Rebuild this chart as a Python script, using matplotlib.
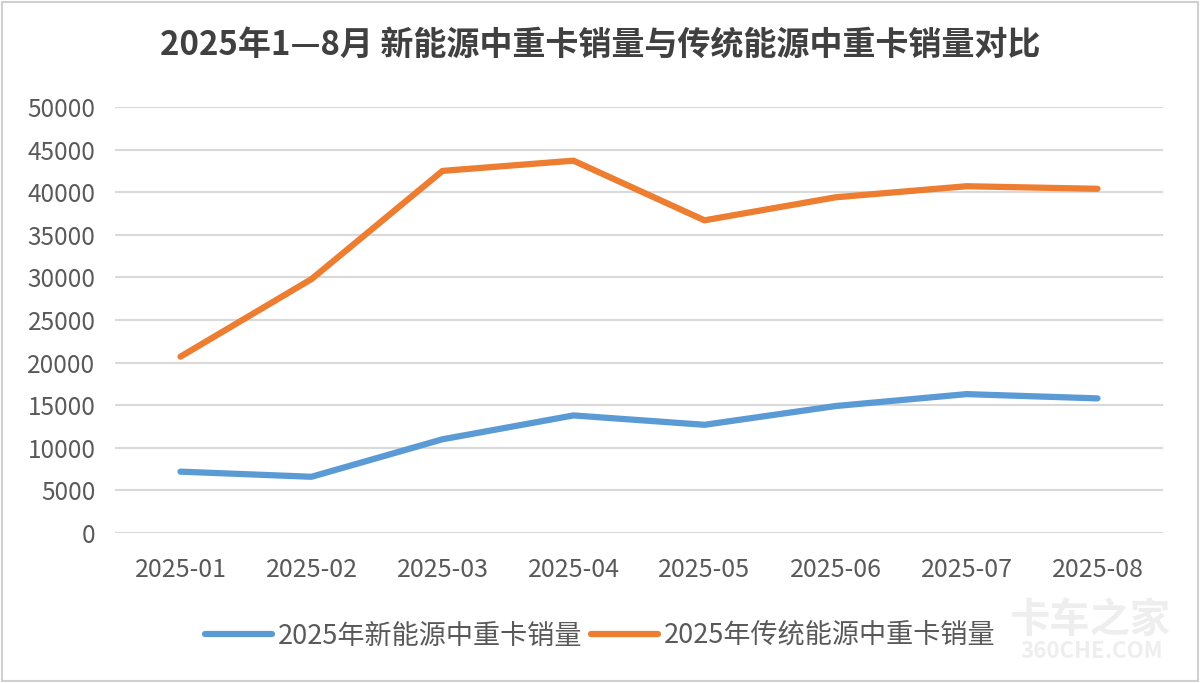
import matplotlib.pyplot as plt
from matplotlib.patches import Rectangle

plt.rcParams['font.family'] = ['Noto Sans CJK SC', 'DejaVu Sans']

# data
months = ['2025-01', '2025-02', '2025-03', '2025-04', '2025-05', '2025-06', '2025-07', '2025-08']
new_energy = [7200, 6600, 11000, 13800, 12700, 14900, 16300, 15800]
traditional = [20700, 29800, 42500, 43700, 36700, 39400, 40700, 40400]
yticks = [0, 5000, 10000, 15000, 20000, 25000, 30000, 35000, 40000, 45000, 50000]

title = '2025年1—8月 新能源中重卡销量与传统能源中重卡销量对比'
label_new = '2025年新能源中重卡销量'
label_old = '2025年传统能源中重卡销量'

fig = plt.figure(figsize=(12, 6.83), dpi=100)
ax = fig.add_axes([115/1200, 150/683, 1048/1200, 426/683])

x = range(len(months))
ax.plot(x, new_energy, color='#5B9BD5', lw=4.5, solid_capstyle='round', solid_joinstyle='round', label=label_new)
ax.plot(x, traditional, color='#ED7D31', lw=4.5, solid_capstyle='round', solid_joinstyle='round', label=label_old)

ax.set_xlim(-0.5, len(months) - 0.5)
ax.set_ylim(0, 50000)
ax.set_yticks(yticks)
ax.set_xticks(list(x))
ax.set_xticklabels(months)
ax.grid(axis='y', color='#D9D9D9', lw=1.5)
ax.set_axisbelow(True)
for s in ax.spines.values():
    s.set_visible(False)
ax.tick_params(length=0, colors='#595959')
ax.tick_params(axis='y', labelsize=17.5, pad=14)
ax.tick_params(axis='x', labelsize=18, pad=17)

fig.text(0.5, 1 - 45/683, title, ha='center', va='center', fontsize=23.8, fontweight='bold', color='#404040')

fig.legend(loc='center', bbox_to_anchor=(0.5, 47/683), ncol=2, frameon=False,
           fontsize=19.5, handlelength=2.5, handletextpad=0.2, columnspacing=0.3,
           labelcolor='#595959')

# watermark
fig.text(1090/1200, 1 - 620/683, '卡车之家', ha='center', va='center', fontsize=29, fontweight='bold', color='#EEEEEE')
fig.text(1092/1200, 1 - 652/683, '360CHE.COM', ha='center', va='center', fontsize=16, fontweight='bold', color='#EEEEEE')

# outer border
fig.patches.append(Rectangle((0.002, 0.003), 0.996, 0.994, transform=fig.transFigure,
                             fill=False, edgecolor='#D0D0D0', lw=1.5))

fig.savefig('out.png', dpi=100)
